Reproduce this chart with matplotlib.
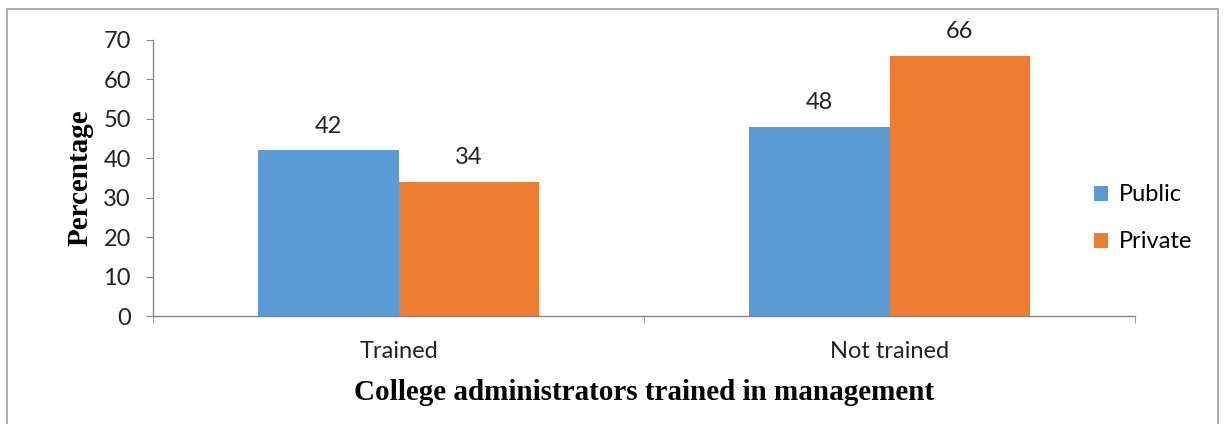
import matplotlib.pyplot as plt
import matplotlib.patches as patches
import numpy as np

# Chart data
categories = ['Trained', 'Not trained']
public = [42, 48]
private = [34, 66]
series_names = ['Public', 'Private']

blue = '#5B9BD5'
orange = '#ED7D31'
grey = '#868686'
sans = 'Lato'
fs = 17

fig = plt.figure(figsize=(12.26, 4.24), dpi=100)
ax = fig.add_axes([0.1248, 0.2547, 0.801, 0.651])

x = np.arange(len(categories))
w = 0.287
b1 = ax.bar(x - w / 2, public, w, color=blue, label=series_names[0])
b2 = ax.bar(x + w / 2, private, w, color=orange, label=series_names[1])

# value labels above each bar
for bars in (b1, b2):
    for rect in bars:
        h = rect.get_height()
        ax.annotate(f"{h:g}", (rect.get_x() + rect.get_width() / 2, h),
                    xytext=(0, 10), textcoords='offset points',
                    ha='center', va='bottom', fontsize=fs, family=sans,
                    color='#222222')

ax.set_xlim(-0.5, len(categories) - 0.5)
ax.set_ylim(0, 70)
ax.set_yticks(range(0, 71, 10))

ax.set_xticks(x)
ax.set_xticklabels(categories, family=sans, fontsize=fs, color='#222222')
ax.set_xticks(np.arange(-0.5, len(categories)), minor=True)
ax.tick_params(axis='x', which='major', length=0, pad=18)
ax.tick_params(axis='x', which='minor', length=5, color=grey)
ax.tick_params(axis='y', length=5, color=grey, labelsize=fs, labelcolor='#222222', pad=11)
for lbl in ax.get_yticklabels():
    lbl.set_family(sans)

for side in ('top', 'right'):
    ax.spines[side].set_visible(False)
for side in ('left', 'bottom'):
    ax.spines[side].set_color(grey)
    ax.spines[side].set_linewidth(1)

ax.set_ylabel('Percentage', family='Liberation Serif', fontweight='bold',
              fontsize=21, labelpad=7)
ax.set_xlabel('College administrators trained in management',
              family='Liberation Serif', fontweight='bold', fontsize=21, labelpad=12)

fig.legend(handles=[b1, b2], labels=series_names, loc='center left',
           bbox_to_anchor=(0.875, 0.485), frameon=False,
           prop={'family': sans, 'size': fs}, handlelength=0.6,
           handleheight=0.6, handletextpad=0.45, labelspacing=1.1)

# outer border of the chart area
border = patches.Rectangle((7 / 1226, -0.05), 1211 / 1226, 1.05 - 9 / 424,
                           transform=fig.transFigure, fill=False,
                           edgecolor='#A0A0A0', linewidth=1.2)
fig.patches.append(border)

fig.savefig('out.png', dpi=100)
